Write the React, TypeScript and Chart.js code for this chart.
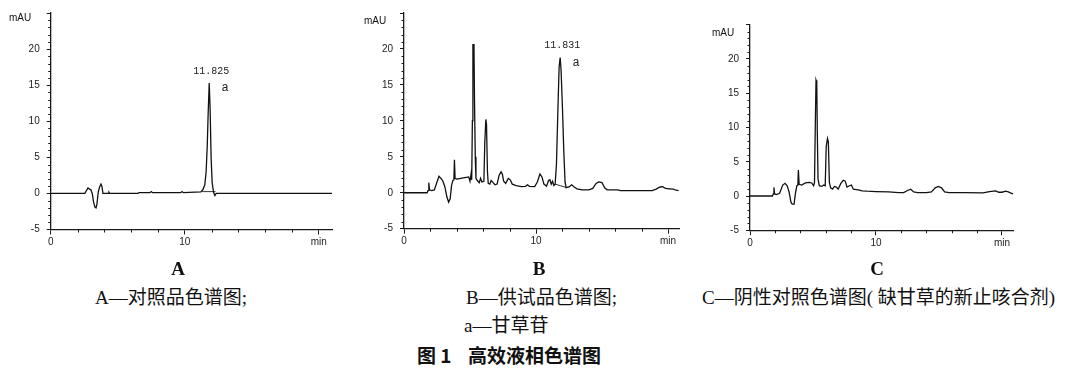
import React, { useEffect, useRef } from "react";
import { Chart, registerables } from "chart.js";

Chart.register(...registerables);

// ---------- data (time in min, absorbance in mAU) ----------
const timesA = [0, 2.55, 2.7, 2.78, 2.9, 3.0, 3.1, 3.2, 3.3, 3.38, 3.45, 3.55, 3.65, 3.75, 3.82, 3.9, 4.0, 4.3, 4.35, 4.4, 6.5, 6.6, 7.4, 7.5, 7.6, 9.7, 9.8, 9.9, 11.2, 11.35, 11.5, 11.6, 11.68, 11.75, 11.83, 11.9, 11.97, 12.05, 12.15, 12.25, 12.35, 12.45, 21];
const valuesA = [0, 0, 0.5, 0.75, 0.6, 0.5, 0, -1.2, -1.9, -2.0, -1.5, 0.2, 0.9, 1.3, 1.0, 0, 0, 0, 0.15, 0, 0, 0.1, 0.1, 0.25, 0.1, 0.1, 0.25, 0.1, 0.2, 0.5, 1.2, 3, 6.5, 11, 15.3, 11.5, 5, 1.5, 0.2, -0.3, 0, 0, 0];
const baseTimesA = [11.3, 12.3];
const baseValuesA = [0.25, 0.25];

const timesB = [0, 1.75, 1.82, 1.88, 1.93, 2.1, 2.3, 2.5, 2.65, 2.8, 2.95, 3.1, 3.25, 3.38, 3.5, 3.6, 3.7, 3.78, 3.82, 3.87, 4.0, 4.3, 4.6, 4.9, 5.0, 5.08, 5.13, 5.18, 5.22, 5.3, 5.34, 5.4, 5.45, 5.55, 5.7, 5.8, 5.9, 6.05, 6.12, 6.2, 6.25, 6.32, 6.38, 6.5, 6.6, 6.75, 6.9, 7.05, 7.2, 7.35, 7.45, 7.55, 7.7, 7.9, 8.05, 8.2, 8.5, 8.9, 9.2, 9.35, 9.5, 9.9, 10.1, 10.3, 10.45, 10.6, 10.8, 10.95, 11.05, 11.15, 11.25, 11.35, 11.45, 11.55, 11.65, 11.75, 11.83, 11.9, 12.0, 12.1, 12.2, 12.28, 12.5, 12.7, 12.9, 13.1, 13.5, 14.0, 14.3, 14.55, 14.75, 15.0, 15.2, 15.4, 16.2, 16.4, 18.8, 19.1, 19.4, 19.6, 19.8, 20.1, 20.4, 20.6, 20.8];
const valuesB = [0, 0, 0.3, 1.4, 0.4, 0.3, 0.4, 1.5, 2.3, 2.0, 1.6, 0.8, -0.6, -1.3, -0.8, 1.0, 1.7, 1.8, 4.6, 2.0, 1.9, 2.0, 2.1, 2.2, 1.6, 2.6, 1.8, 10, 20.6, 20.6, 13, 5, 2.0, 1.7, 1.4, 2.0, 1.5, 1.6, 7.0, 10.2, 9.5, 3, 1.3, 1.2, 1.7, 1.4, 1.1, 1.2, 2.4, 2.9, 2.6, 1.6, 1.3, 2.0, 1.8, 1.2, 1.0, 0.85, 0.9, 1.1, 0.9, 0.85, 1.5, 2.6, 2.2, 1.2, 0.9, 1.7, 1.8, 1.2, 1.6, 1.0, 1.2, 4, 11, 17.5, 18.8, 17, 12, 6, 1.5, 0.7, 0.8, 1.1, 0.8, 0.55, 0.4, 0.4, 0.6, 1.3, 1.5, 1.4, 0.7, 0.4, 0.4, 0.3, 0.3, 0.5, 0.8, 0.85, 0.6, 0.55, 0.5, 0.35, 0.3];
const baseTimesB = [11.45, 12.25];
const baseValuesB = [1.2, 0.75];

const timesC = [0, 1.78, 1.85, 1.9, 1.95, 2.1, 2.35, 2.6, 2.78, 2.95, 3.1, 3.25, 3.35, 3.5, 3.6, 3.72, 3.8, 3.84, 3.9, 4.1, 4.4, 4.7, 4.9, 5.05, 5.12, 5.18, 5.24, 5.3, 5.34, 5.4, 5.5, 5.7, 5.85, 5.97, 6.05, 6.15, 6.22, 6.3, 6.4, 6.55, 6.7, 6.85, 7.0, 7.2, 7.4, 7.55, 7.7, 7.9, 8.05, 8.2, 8.6, 8.9, 9.3, 10.0, 11.0, 11.8, 12.2, 12.5, 12.75, 13.0, 13.3, 14.0, 14.4, 14.7, 14.95, 15.2, 15.45, 15.8, 17.0, 18.5, 18.9, 19.3, 19.5, 19.75, 20.0, 20.3, 20.5, 20.8, 20.9];
const valuesC = [0, 0, 0.3, 1.25, 0.3, 0.2, 0.4, 1.6, 1.85, 1.5, 0.6, -0.9, -1.2, -1.2, 0.3, 1.5, 1.6, 3.8, 1.7, 1.6, 1.9, 2.0, 1.9, 1.5, 2.0, 9.9, 16.9, 16.5, 9.7, 2.5, 1.5, 1.4, 1.6, 1.5, 7.2, 8.4, 7.9, 2.0, 1.2, 1.0, 1.4, 1.3, 1.0, 1.8, 2.3, 2.2, 1.3, 1.5, 1.6, 1.0, 0.9, 0.75, 0.7, 0.65, 0.6, 0.5, 0.5, 0.8, 1.0, 0.6, 0.5, 0.5, 0.6, 1.2, 1.4, 1.2, 0.6, 0.5, 0.5, 0.45, 0.6, 0.7, 0.75, 0.55, 0.55, 0.7, 0.6, 0.35, 0.35];

const yMin = -5;
const yMax = 25;
const yMajorStep = 5;
const xMajorStep = 10;
const xMinorStep = 2;
const xMaxA = 21;
const xMaxB = 20.9;
const xMaxC = 20.9;
const peakTimeA = 11.83;
const peakValueA = 15.3;
const peakTextA = "11.825";
const peakTimeB = 11.83;
const peakValueB = 18.8;
const peakTextB = "11.831";
const peakName = "a";
const yUnit = "mAU";
const xUnit = "min";

const AXIS = "#1a1a1a";
const TICK_FONT = '"Liberation Sans", Arial, sans-serif';

const minorTicks = {
  id: "minorTicks",
  afterDraw(chart: any) {
    const { ctx, chartArea, scales } = chart;
    const x = scales.x;
    const y = scales.y;
    ctx.save();
    ctx.strokeStyle = AXIS;
    ctx.lineWidth = 1;
    for (let v = yMin; v <= yMax; v++) {
      if (v % yMajorStep === 0) continue;
      const py = Math.round(y.getPixelForValue(v)) + 0.5;
      ctx.beginPath();
      ctx.moveTo(chartArea.left - 2.5, py);
      ctx.lineTo(chartArea.left, py);
      ctx.stroke();
    }
    for (let t = xMinorStep; t < x.max; t += xMinorStep) {
      if (t % xMajorStep === 0) continue;
      const px = Math.round(x.getPixelForValue(t)) + 0.5;
      ctx.beginPath();
      ctx.moveTo(px, chartArea.bottom);
      ctx.lineTo(px, chartArea.bottom + 3);
      ctx.stroke();
    }
    ctx.restore();
  },
};

const peakLabel = {
  id: "peakLabel",
  afterDraw(chart: any, _args: any, opts: any) {
    if (!opts || !opts.text) return;
    const { ctx, scales } = chart;
    const px = scales.x.getPixelForValue(opts.time);
    const py = scales.y.getPixelForValue(opts.value);
    ctx.save();
    ctx.fillStyle = "#222";
    ctx.textAlign = "center";
    ctx.textBaseline = "middle";
    ctx.font = '10px "Liberation Mono", monospace';
    ctx.fillText(opts.text, px + 2, py - 12);
    ctx.font = '12px "Liberation Mono", monospace';
    ctx.fillText(opts.name, px + 16, py + 5);
    ctx.restore();
  },
};

type PanelProps = {
  left: number;
  width: number;
  axisLeft: number;
  axisRight: number;
  axisTop: number;
  axisBottom: number;
  xMax: number;
  times: number[];
  values: number[];
  baseTimes?: number[];
  baseValues?: number[];
  peak?: { time: number; value: number; text: string; name: string };
};

const H = 260;
const YW = 44;
const XH = 25;

function Panel(p: PanelProps) {
  const ref = useRef<HTMLCanvasElement | null>(null);
  useEffect(() => {
    if (!ref.current) return;
    const datasets: any[] = [
      {
        data: p.times.map((t, i) => ({ x: t, y: p.values[i] })),
        borderColor: "#111",
        borderWidth: 1.3,
        pointRadius: 0,
        tension: 0,
        fill: false,
      },
    ];
    if (p.baseTimes && p.baseValues) {
      datasets.push({
        data: p.baseTimes.map((t, i) => ({ x: t, y: p.baseValues![i] })),
        borderColor: "#333",
        borderWidth: 1,
        pointRadius: 0,
        fill: false,
      });
    }
    const chart = new Chart(ref.current, {
      type: "line",
      data: { datasets },
      options: {
        animation: false,
        responsive: false,
        maintainAspectRatio: false,
        layout: {
          padding: {
            left: p.axisLeft - p.left - YW,
            right: p.left + p.width - p.axisRight,
            top: p.axisTop,
            bottom: H - p.axisBottom - XH,
          },
        },
        plugins: {
          legend: { display: false },
          tooltip: { enabled: false },
          peakLabel: p.peak || {},
        } as any,
        scales: {
          x: {
            type: "linear",
            min: 0,
            max: p.xMax,
            afterFit: (s: any) => {
              s.height = XH;
            },
            ticks: {
              stepSize: xMajorStep,
              includeBounds: false,
              autoSkip: false,
              maxRotation: 0,
              padding: 2,
              color: "#222",
              font: { family: TICK_FONT, size: 10 },
              callback: (v: any) => (v === 20 ? xUnit : String(v)),
            },
            grid: {
              display: true,
              drawOnChartArea: false,
              drawTicks: true,
              tickLength: 5,
              color: AXIS,
              lineWidth: 1,
            },
            border: { display: true, color: AXIS, width: 1.3 },
          },
          y: {
            type: "linear",
            min: yMin,
            max: yMax,
            afterFit: (s: any) => {
              s.width = YW;
            },
            ticks: {
              stepSize: yMajorStep,
              autoSkip: false,
              padding: 7,
              color: "#222",
              font: { family: TICK_FONT, size: 10 },
              callback: (v: any) => (v === yMax ? "" : String(v)),
            },
            grid: {
              display: true,
              drawOnChartArea: false,
              drawTicks: true,
              tickLength: 4,
              color: AXIS,
              lineWidth: 1,
            },
            border: { display: true, color: AXIS, width: 1.3 },
          },
        },
      },
      plugins: [minorTicks, peakLabel],
    });
    return () => chart.destroy();
  }, []);
  return (
    <canvas
      ref={ref}
      width={p.width}
      height={H}
      style={{ position: "absolute", left: p.left, top: 0, width: p.width, height: H }}
    />
  );
}

function Txt(props: {
  x: number;
  y: number;
  size: number;
  family: string;
  weight?: number;
  align?: "left" | "center";
  children: React.ReactNode;
}) {
  const { x, y, size, family, weight, align, children } = props;
  return (
    <div
      style={{
        position: "absolute",
        left: x,
        top: y - size / 2,
        fontSize: size,
        lineHeight: `${size}px`,
        fontFamily: family,
        fontWeight: weight || 400,
        whiteSpace: "nowrap",
        color: "#111",
        transform: align === "center" ? "translateX(-50%)" : undefined,
      }}
    >
      {children}
    </div>
  );
}

const SERIF = '"Liberation Serif", "Noto Sans CJK SC", serif';
const SANS = '"Liberation Sans", Arial, sans-serif';
const HEI = '"Noto Sans CJK SC", sans-serif';

export default function App() {
  return (
    <div style={{ position: "absolute", left: 0, top: 0, width: 1069, height: 370, background: "#fff", overflow: "hidden" }}>
      <Panel left={0} width={350} axisLeft={50.7} axisRight={332.1} axisTop={10} axisBottom={229.5} xMax={xMaxA} times={timesA} values={valuesA} baseTimes={baseTimesA} baseValues={baseValuesA} peak={{ time: peakTimeA, value: peakValueA, text: peakTextA, name: peakName }} />
      <Panel left={355} width={345} axisLeft={404} axisRight={679.9} axisTop={12.7} axisBottom={228.7} xMax={xMaxB} times={timesB} values={valuesB} baseTimes={baseTimesB} baseValues={baseValuesB} peak={{ time: peakTimeB, value: peakValueB, text: peakTextB, name: peakName }} />
      <Panel left={705} width={364} axisLeft={750} axisRight={1013.3} axisTop={24.75} axisBottom={230.25} xMax={xMaxC} times={timesC} values={valuesC} />

      <Txt x={9} y={17.5} size={10} family={SANS}>{yUnit}</Txt>
      <Txt x={364} y={20.7} size={10} family={SANS}>{yUnit}</Txt>
      <Txt x={712} y={32.7} size={10} family={SANS}>{yUnit}</Txt>

      <Txt x={178} y={268} size={19} family={SERIF} weight={700} align="center">A</Txt>
      <Txt x={539} y={268} size={19} family={SERIF} weight={700} align="center">B</Txt>
      <Txt x={877} y={268} size={19} family={SERIF} weight={700} align="center">C</Txt>

      <Txt x={95} y={297} size={19} family={SERIF}>A—对照品色谱图;</Txt>
      <Txt x={466} y={297} size={19} family={SERIF}>B—供试品色谱图;</Txt>
      <Txt x={702} y={297} size={19} family={SERIF}>C—阴性对照色谱图( 缺甘草的新止咳合剂)</Txt>
      <Txt x={464} y={325} size={19} family={SERIF}>a—甘草苷</Txt>
      <Txt x={417} y={354} size={19} family={HEI} weight={700}>图 1</Txt>
      <Txt x={468} y={354} size={19} family={HEI} weight={700}>高效液相色谱图</Txt>
    </div>
  );
}
